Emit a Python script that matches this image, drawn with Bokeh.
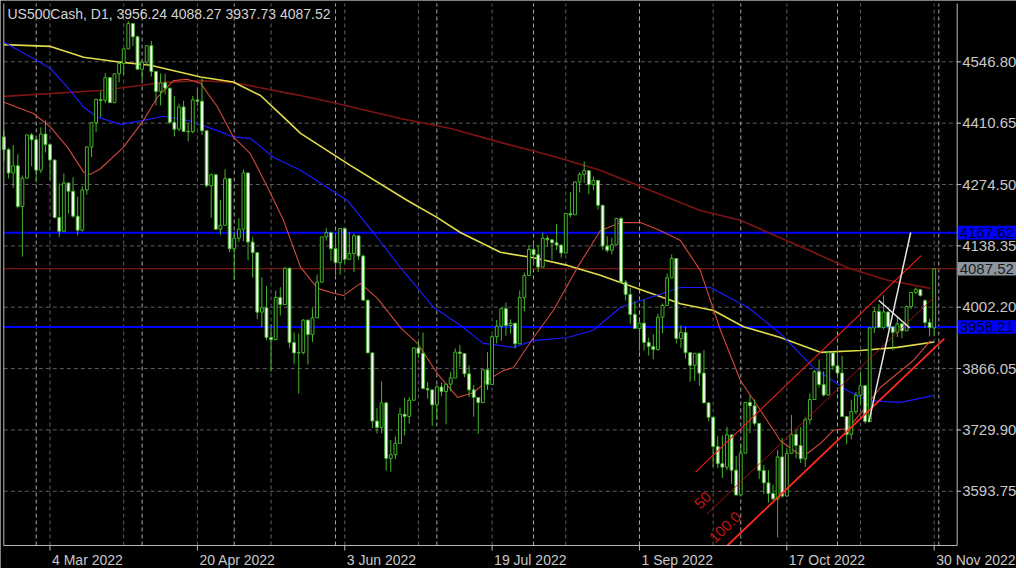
from bokeh.plotting import figure
from bokeh.models import Range1d, ColumnDataSource
from bokeh.core.properties import value
from bokeh.embed import file_html
from bokeh.resources import INLINE

# ---------------- data (US500Cash, D1) ----------------
dates = ["2022-02-18","2022-02-21","2022-02-22","2022-02-23","2022-02-24","2022-02-25","2022-02-28",
"2022-03-01","2022-03-02","2022-03-03","2022-03-04","2022-03-07","2022-03-08","2022-03-09","2022-03-10","2022-03-11",
"2022-03-14","2022-03-15","2022-03-16","2022-03-17","2022-03-18","2022-03-21","2022-03-22","2022-03-23","2022-03-24",
"2022-03-25","2022-03-28","2022-03-29","2022-03-30","2022-03-31",
"2022-04-01","2022-04-04","2022-04-05","2022-04-06","2022-04-07","2022-04-08","2022-04-11","2022-04-12","2022-04-13",
"2022-04-14","2022-04-18","2022-04-19","2022-04-20","2022-04-21","2022-04-22","2022-04-25","2022-04-26","2022-04-27",
"2022-04-28","2022-04-29",
"2022-05-02","2022-05-03","2022-05-04","2022-05-05","2022-05-06","2022-05-09","2022-05-10","2022-05-11","2022-05-12",
"2022-05-13","2022-05-16","2022-05-17","2022-05-18","2022-05-19","2022-05-20","2022-05-23","2022-05-24","2022-05-25",
"2022-05-26","2022-05-27","2022-05-30","2022-05-31",
"2022-06-01","2022-06-02","2022-06-03","2022-06-06","2022-06-07","2022-06-08","2022-06-09","2022-06-10","2022-06-13",
"2022-06-14","2022-06-15","2022-06-16","2022-06-17","2022-06-20","2022-06-21","2022-06-22","2022-06-23","2022-06-24",
"2022-06-27","2022-06-28","2022-06-29","2022-06-30",
"2022-07-01","2022-07-04","2022-07-05","2022-07-06","2022-07-07","2022-07-08","2022-07-11","2022-07-12","2022-07-13",
"2022-07-14","2022-07-15","2022-07-18","2022-07-19","2022-07-20","2022-07-21","2022-07-22","2022-07-25","2022-07-26",
"2022-07-27","2022-07-28","2022-07-29",
"2022-08-01","2022-08-02","2022-08-03","2022-08-04","2022-08-05","2022-08-08","2022-08-09","2022-08-10","2022-08-11",
"2022-08-12","2022-08-15","2022-08-16","2022-08-17","2022-08-18","2022-08-19","2022-08-22","2022-08-23","2022-08-24",
"2022-08-25","2022-08-26","2022-08-29","2022-08-30","2022-08-31",
"2022-09-01","2022-09-02","2022-09-05","2022-09-06","2022-09-07","2022-09-08","2022-09-09","2022-09-12","2022-09-13",
"2022-09-14","2022-09-15","2022-09-16","2022-09-19","2022-09-20","2022-09-21","2022-09-22","2022-09-23","2022-09-26",
"2022-09-27","2022-09-28","2022-09-29","2022-09-30",
"2022-10-03","2022-10-04","2022-10-05","2022-10-06","2022-10-07","2022-10-10","2022-10-11","2022-10-12","2022-10-13",
"2022-10-14","2022-10-17","2022-10-18","2022-10-19","2022-10-20","2022-10-21","2022-10-24","2022-10-25","2022-10-26",
"2022-10-27","2022-10-28","2022-10-31",
"2022-11-01","2022-11-02","2022-11-03","2022-11-04","2022-11-07","2022-11-08","2022-11-09","2022-11-10","2022-11-11",
"2022-11-14","2022-11-15","2022-11-16","2022-11-17","2022-11-18","2022-11-21","2022-11-22","2022-11-23","2022-11-24",
"2022-11-25","2022-11-28","2022-11-29","2022-11-30"]

opens = [4380.0,4352.0,4300.0,4316.0,4225.5,4288.7,4384.6,
4374.0,4306.3,4386.5,4363.5,4328.9,4201.1,4170.7,4277.9,4259.5,4204.3,4173.1,4262.4,4357.9,4411.7,4463.1,4461.2,4511.6,4456.2,
4520.2,4543.1,4575.5,4631.6,4602.4,
4530.4,4545.9,4582.6,4525.1,4481.1,4500.2,4488.3,4412.5,4397.4,4446.6,4392.6,4391.7,4462.2,4459.4,4393.7,4271.8,4296.1,4175.2,
4184.0,4287.5,
4131.9,4155.4,4175.5,4300.2,4146.9,4123.3,3991.2,4001.0,3935.2,3930.1,4023.9,4008.0,4088.8,3923.7,3900.8,3901.4,3973.7,3941.5,
3978.7,4057.8,4158.2,4168.0,
4132.1,4101.2,4176.8,4108.5,4121.4,4160.7,4115.8,4017.8,3900.9,3749.6,3735.5,3790.0,3666.8,3674.8,3700.0,3764.8,3759.9,3795.7,
3911.7,3900.1,3821.5,3818.8,
3785.4,3825.3,3815.0,3831.4,3845.1,3902.6,3899.4,3854.4,3818.8,3801.8,3790.4,3863.2,3830.8,3936.7,3959.9,3998.9,3961.6,3966.8,
3921.0,4023.6,4072.4,
4130.3,4118.6,4091.2,4155.2,4151.9,4145.2,4140.1,4122.5,4210.2,4207.3,4280.2,4297.1,4305.2,4274.0,4283.7,4228.5,4138.0,4128.7,
4140.8,4199.1,4057.7,4030.6,3986.2,
3955.0,3966.8,3924.3,3915.0,3908.2,3979.9,4006.2,4067.4,4110.4,3932.7,3946.0,3901.3,3873.3,3899.9,3855.9,3789.9,3758.0,3693.2,
3655.0,3647.3,3719.0,3640.5,
3585.6,3678.4,3790.9,3783.3,3744.5,3639.7,3612.4,3588.8,3577.0,3669.9,3583.1,3678.0,3720.0,3695.2,3665.8,3752.7,3797.3,3859.1,
3830.6,3807.3,3901.1,
3872.0,3856.1,3759.7,3719.9,3770.5,3806.8,3828.1,3748.6,3956.4,3992.9,3957.2,3991.7,3958.8,3946.6,3965.3,3949.9,4003.6,4035.0,
4041.0,4017.0,3968.0,3956.24]

highs = [4394.6,4356.0,4362.1,4341.5,4294.7,4385.3,4388.8,
4378.4,4401.5,4416.8,4363.5,4330.0,4276.9,4299.4,4278.0,4291.0,4247.6,4271.0,4358.9,4412.7,4465.4,4481.7,4522.0,4512.0,4520.6,
4546.0,4575.6,4637.3,4632.0,4605.0,
4548.7,4583.5,4593.4,4525.1,4521.2,4520.4,4488.3,4471.0,4453.9,4460.5,4410.3,4471.0,4488.3,4512.9,4393.7,4299.0,4296.1,4240.7,
4308.4,4287.5,
4169.8,4200.1,4307.7,4300.2,4157.7,4123.3,4068.8,4049.1,3964.8,4038.9,4046.5,4090.7,4088.8,3946.0,3943.4,3975.5,3973.7,3999.3,
4075.1,4158.5,4178.0,4170.0,
4166.5,4177.5,4176.8,4168.8,4164.9,4160.7,4119.1,4017.8,3900.9,3778.2,3837.6,3790.0,3707.7,3715.0,3779.6,3801.8,3802.6,3913.6,
3927.7,3945.9,3836.5,3819.0,
3829.8,3835.0,3832.2,3858.2,3910.6,3918.5,3899.4,3873.4,3829.4,3801.8,3863.6,3902.4,3939.8,3974.1,3999.3,4012.4,3975.3,3966.8,
4039.6,4079.0,4140.2,
4145.0,4140.5,4167.7,4161.3,4151.9,4186.6,4140.1,4211.0,4257.9,4280.5,4301.8,4325.3,4305.2,4292.5,4283.7,4228.5,4159.8,4156.6,
4200.5,4203.0,4063.0,4045.0,4015.4,
3970.2,4018.4,3935.0,3942.5,3987.9,4010.5,4076.8,4119.3,4110.4,3961.9,3959.1,3901.3,3900.4,3899.9,3907.1,3790.8,3758.0,3715.7,
3717.5,3736.7,3719.0,3671.4,
3698.3,3791.9,3806.9,3797.9,3744.5,3652.2,3640.7,3608.3,3685.4,3712.0,3689.7,3762.8,3728.6,3736.0,3757.9,3810.7,3862.8,3886.1,
3860.0,3905.4,3901.1,
3911.8,3894.4,3759.7,3796.3,3813.9,3859.4,3828.1,3958.3,4001.5,4009.0,4028.8,3991.7,3958.8,3979.9,3965.3,4005.9,4036.0,4046.0,
4042.0,4020.0,3976.8,4088.27]

lows = [4327.2,4288.0,4267.1,4221.5,4114.6,4286.8,4315.1,
4279.5,4300.0,4345.6,4285.0,4199.8,4157.9,4170.0,4209.8,4200.5,4161.7,4170.0,4252.0,4335.6,4390.6,4424.3,4455.0,4455.8,4455.0,
4501.1,4517.7,4575.0,4581.3,4530.4,
4507.6,4539.2,4514.2,4450.0,4450.3,4474.6,4408.4,4381.3,4392.7,4390.8,4370.3,4388.0,4448.8,4384.5,4267.6,4200.8,4175.0,4162.9,
4184.0,4124.3,
4062.5,4147.1,4148.9,4106.0,4067.9,3975.5,3958.2,3928.8,3858.9,3930.0,3984.0,4008.0,3911.9,3876.6,3810.3,3897.1,3875.1,3925.0,
3978.0,4057.8,4150.0,4104.9,
4073.8,4074.4,4098.7,4108.0,4080.2,4107.2,4017.2,3900.2,3734.3,3722.3,3722.3,3639.8,3636.9,3665.0,3700.0,3717.7,3743.5,3795.7,
3889.7,3820.1,3799.0,3738.7,
3752.1,3805.0,3742.1,3815.5,3845.0,3869.3,3847.2,3802.4,3759.1,3721.6,3790.0,3818.6,3830.0,3922.0,3927.6,3938.8,3943.5,3910.7,
3921.0,3993.0,4072.4,
4096.0,4079.8,4091.2,4135.4,4107.3,4129.0,4112.1,4122.5,4201.4,4207.3,4256.9,4277.8,4253.1,4262.0,4218.7,4129.9,4124.0,4120.0,
4140.0,4057.7,4017.4,3965.2,3954.5,
3903.6,3906.2,3895.0,3886.7,3906.0,3944.8,4006.2,4067.4,3921.7,3912.1,3888.3,3837.1,3838.5,3827.5,3789.5,3749.4,3647.5,3644.8,
3623.3,3640.6,3610.4,3584.1,
3585.0,3678.4,3722.7,3739.2,3620.7,3588.1,3568.4,3573.9,3491.6,3579.7,3583.1,3678.0,3666.5,3656.4,3647.4,3741.6,3797.3,3824.1,
3803.8,3807.3,3863.2,
3843.8,3758.7,3698.2,3708.8,3764.7,3786.3,3744.2,3748.6,3944.8,3956.4,3953.2,3954.3,3906.5,3936.0,3933.3,3949.9,3998.7,4032.0,
4026.0,3955.8,3937.6,3937.73]

closes = [4352.0,4300.0,4316.0,4225.5,4288.7,4384.6,4374.0,
4306.3,4386.5,4363.5,4328.9,4201.1,4170.7,4277.9,4259.5,4204.3,4173.1,4262.4,4357.9,4411.7,4463.1,4461.2,4511.6,4456.2,4520.2,
4543.1,4575.5,4631.6,4602.4,4530.4,
4545.9,4582.6,4525.1,4481.1,4500.2,4488.3,4412.5,4397.4,4446.6,4392.6,4391.7,4462.2,4459.4,4393.7,4271.8,4296.1,4175.2,4184.0,
4287.5,4131.9,
4155.4,4175.5,4300.2,4146.9,4123.3,3991.2,4001.0,3935.2,3930.1,4023.9,4008.0,4088.8,3923.7,3900.8,3901.4,3973.7,3941.5,3978.7,
4057.8,4158.2,4168.0,4132.1,
4101.2,4176.8,4108.5,4121.4,4160.7,4115.8,4017.8,3900.9,3749.6,3735.5,3790.0,3666.8,3674.8,3700.0,3764.8,3759.9,3795.7,3911.7,
3900.1,3821.5,3818.8,3785.4,
3825.3,3815.0,3831.4,3845.1,3902.6,3899.4,3854.4,3818.8,3801.8,3790.4,3863.2,3830.8,3936.7,3959.9,3998.9,3961.6,3966.8,3921.0,
4023.6,4072.4,4130.3,
4118.6,4091.2,4155.2,4151.9,4145.2,4140.1,4122.5,4210.2,4207.3,4280.2,4297.1,4305.2,4274.0,4283.7,4228.5,4138.0,4128.7,4140.8,
4199.1,4057.7,4030.6,3986.2,3955.0,
3966.8,3924.3,3915.0,3908.2,3979.9,4006.2,4067.4,4110.4,3932.7,3946.0,3901.3,3873.3,3899.9,3855.9,3789.9,3758.0,3693.2,3655.0,
3647.3,3719.0,3640.5,3585.6,
3678.4,3790.9,3783.3,3744.5,3639.7,3612.4,3588.8,3577.0,3669.9,3583.1,3678.0,3720.0,3695.2,3665.8,3752.7,3797.3,3859.1,3830.6,
3807.3,3901.1,3872.0,
3856.1,3759.7,3719.9,3770.5,3806.8,3828.1,3748.6,3956.4,3992.9,3957.2,3991.7,3958.8,3946.6,3965.3,3949.9,4003.6,4035.0,4042.0,
4028.0,3968.0,3957.0,4087.52]

# moving averages (bar position, price)
ma_red_x = [0,6.4,10.1,13.8,17.3,18.8,21.0,25.9,30.3,33.3,36.8,39.8,42.7,46.4,49.8,53.5,57.2,60.7,64.4,68.1,71.6,73.7,77.4,
            81.1,86.1,89.8,94.1,98.5,102.0,105.0,108.5,110.6,115.0,119.3,124.5,129.5,133.9,138.2,142.6,146.9,151.2,155.6,
            159.9,164.3,168.6,172.3,174.5,177.3,180.1,183.2,186.0,190.3,194.0,197.5,201.2]
ma_red_y = [4457,4432,4402,4357,4302,4297,4310,4357,4417,4468,4505,4508,4499,4446,4380,4343,4269,4195,4091,4044,4033,4028,
            4055,4022,3957,3922,3855,3802,3813,3840,3862,3868,3935,3995,4090,4172,4190,4190,4172,4150,4084,3951,3840,3773,
            3706,3678,3678,3700,3729,3733,3766,3824,3855,3884,3928]
ma_blue_x = [0,6.4,10.1,13.8,17.3,20.3,25.3,30.3,34.6,39.8,46.4,49.8,53.5,58.5,64.4,74.6,80.2,86.1,93.3,99.1,104.1,110.6,
             115.0,122.4,128.0,133.9,146.9,153.4,161.5,168.6,175.8,183.2,187.5,194.7,201.8]
ma_blue_y = [4590,4554,4532,4490,4446,4424,4408,4417,4426,4417,4394,4380,4377,4335,4306,4239,4168,4090,4002,3962,3922,3913,
             3928,3935,3951,4002,4046,4046,4002,3944,3868,3817,3795,3791,3806]
ma_yellow_x = [0,10.1,17.3,25.3,31.8,42.7,49.8,55.7,60.7,64.4,75.2,87.6,94.1,99.1,107.8,115.0,122.4,129.5,133.9,146.9,
               154.1,160.6,168.6,177.3,186.0,194.0,202.0]
ma_yellow_y = [4585,4581,4557,4546,4539,4513,4502,4472,4424,4388,4317,4239,4201,4168,4124,4112,4095,4073,4057,4010,3995,
               3959,3935,3902,3906,3913,3925]
ma_maroon_x = [0,21.0,34.6,42.7,49.8,60.7,64.4,71.6,86.1,97.0,107.8,118.7,129.5,140.4,151.2,159.9,175.8,183.2,191.9,201.2]
ma_maroon_y = [4470,4483,4501,4505,4501,4479,4472,4456,4421,4399,4368,4339,4306,4261,4217,4195,4124,4090,4062,4044]

# drawn objects (bar position, price)
chan_top_x, chan_top_y = [150.16, 199.17], [3636.0, 4116.9]
chan_mid_x, chan_mid_y = [152.7, 201.9], [3543.7, 4023.7]
chan_low_x, chan_low_y = [157.1, 204.2], [3473.4, 3932.7]
white1_x, white1_y = [187.8, 196.9], [3747.0, 4168.0]
white2_x, white2_y = [190.0, 196.7], [4017.1, 3956.2]
blue_levels = [4167.62, 3958.21]
bid_price = 4087.52

price_ticks = [3593.75, 3729.90, 3866.05, 4002.20, 4138.35, 4274.50, 4410.65, 4546.80]
time_tick_pos = [10, 42, 74, 106, 138, 170, 202]
time_tick_labels = ["4 Mar 2022", "20 Apr 2022", "3 Jun 2022", "19 Jul 2022", "1 Sep 2022", "17 Oct 2022", "30 Nov 2022"]
month_starts = ["2022-03-01", "2022-04-01", "2022-05-02", "2022-06-01", "2022-07-01", "2022-08-01", "2022-09-01",
                "2022-10-03", "2022-11-01"]
title_text = "US500Cash, D1, 3956.24 4088.27 3937.73 4087.52"

# ---------------- layout constants ----------------
FONT = "Liberation Sans"
GREEN = "#45b52a"
AXIS_C = "#b8b8b8"
TEXT_C = "#c8c8c8"
PX_X = 4.605            # screen pixels per bar
PX_Y = 2.2192           # price units per screen pixel
X0, X1 = -0.04, 206.99  # chart area (bars)
Y0, Y1 = 3473.4, 4676.2 # chart area (price)
def dx(px): return px / PX_X
def dy(px): return px * PX_Y

n = len(dates)
xs = list(range(n))

p = figure(width=1016, height=568,
           x_range=Range1d(X0 - dx(3.3), X0 - dx(3.3) + dx(1016)),
           y_range=Range1d(Y1 + dy(3) - dy(568), Y1 + dy(3)),
           x_axis_location=None, y_axis_location=None,
           output_backend="svg", toolbar_location=None,
           background_fill_color="black", border_fill_color="black",
           min_border=0, min_border_left=0, min_border_right=0, min_border_top=0, min_border_bottom=0)
p.outline_line_color = None
p.grid.visible = False

# grid (dashed) inside the chart area
p.segment(x0=[X0] * len(price_ticks), y0=price_ticks, x1=[X1 + dx(4)] * len(price_ticks), y1=price_ticks,
          line_color="#5c5c5c", line_dash="4 3", line_width=1)
vgrid = list(range(n - 1, -1, -16))
p.segment(x0=vgrid, y0=[Y0] * len(vgrid), x1=vgrid, y1=[Y1] * len(vgrid),
          line_color="#5c5c5c", line_dash="4 3", line_width=1)

# month separators
idx_of = {d: i for i, d in enumerate(dates)}
sep_pos = [idx_of[d] for d in month_starts] + [n]
p.segment(x0=sep_pos, y0=[Y0] * len(sep_pos), x1=sep_pos, y1=[Y1] * len(sep_pos),
          line_color="#a8a8a8", line_dash="4 3", line_width=1)

# horizontal levels
p.segment(x0=[X0] * 2, y0=blue_levels, x1=[X1] * 2, y1=blue_levels, line_color="#0000ff", line_width=2)
p.segment(x0=[X0], y0=[bid_price], x1=[X1], y1=[bid_price], line_color="#9a1a14", line_width=1)

# moving averages
p.line(ma_maroon_x, ma_maroon_y, line_color="#7d1414", line_width=1.6)
p.line(ma_yellow_x, ma_yellow_y, line_color="#e0dc4a", line_width=1.6)
p.line(ma_blue_x, ma_blue_y, line_color="#1a1aff", line_width=1.2)
p.line(ma_red_x, ma_red_y, line_color="#d0493c", line_width=1.1)

# candles
top = [max(o, c) for o, c in zip(opens, closes)]
bot = [min(o, c) for o, c in zip(opens, closes)]
fill = ["white" if c < o else "black" for o, c in zip(opens, closes)]
src = ColumnDataSource(dict(x=xs, h=highs, l=lows, top=top, bot=bot, fill=fill))
p.segment(x0="x", y0="l", x1="x", y1="h", source=src, line_color=GREEN, line_width=1)
p.vbar(x="x", width=0.62, top="top", bottom="bot", source=src, fill_color="fill", line_color=GREEN, line_width=1)

# channel + white lines
p.line(chan_top_x, chan_top_y, line_color="#f01e1e", line_width=1.1)
p.line(chan_mid_x, chan_mid_y, line_color="#b81414", line_width=0.9)
p.line(chan_low_x, chan_low_y, line_color="#ff2a1e", line_width=1.8)
p.line(white1_x, white1_y, line_color="#e6e6e6", line_width=1.5)
p.line(white2_x, white2_y, line_color="#e6e6e6", line_width=1.5)
p.text(x=[151.2, 154.4], y=[3553, 3477], text=["50", "100.0"], angle=0.763, text_color="#c41616",
       text_font=value(FONT), text_font_size=value("15px"), text_align="left", text_baseline="bottom")

# chart frame (left, bottom, right)
p.line([X0, X0, X1, X1], [Y1, Y0, Y0, Y1], line_color=AXIS_C, line_width=1)

# price scale on the right
p.segment(x0=[X1] * len(price_ticks), y0=price_ticks, x1=[X1 + dx(4)] * len(price_ticks), y1=price_ticks,
          line_color=AXIS_C, line_width=1)
p.text(x=[X1 + dx(5)] * len(price_ticks), y=price_ticks, text=[f"{v:.2f}" for v in price_ticks],
       text_color=TEXT_C, text_font=value(FONT), text_font_size=value("15px"),
       text_align="left", text_baseline="middle")

# price boxes
box_vals = blue_levels + [bid_price]
box_cols = ["#0000ff", "#0000ff", "#8c96a0"]
box_txt = ["#000028", "#000028", "#1c1c1c"]
p.quad(left=[X1 + dx(0.6)] * 3, right=[X1 + dx(62)] * 3,
       bottom=[v - dy(6.8) for v in box_vals], top=[v + dy(6.8) for v in box_vals],
       fill_color=box_cols, line_color=None)
p.text(x=[X1 + dx(2.5)] * 3, y=box_vals, text=[f"{v:.2f}" for v in box_vals], text_color=box_txt,
       text_font=value(FONT), text_font_size=value("15px"), text_align="left", text_baseline="middle")

# time scale
p.segment(x0=time_tick_pos, y0=[Y0] * len(time_tick_pos), x1=time_tick_pos, y1=[Y0 - dy(5)] * len(time_tick_pos),
          line_color=AXIS_C, line_width=1)
p.text(x=[t + dx(2) for t in time_tick_pos], y=[Y0 - dy(6.5)] * len(time_tick_pos), text=time_tick_labels,
       text_color=TEXT_C, text_font=value(FONT), text_font_size=value("14px"),
       text_align="left", text_baseline="top")

# title
p.text(x=[X0 + dx(3.7)], y=[Y1 - dy(10)], text=[title_text], text_color="#d2d2d2",
       text_font=value(FONT), text_font_size=value("14px"), text_align="left", text_baseline="middle")

open("out.html", "w").write(file_html(p, INLINE))
